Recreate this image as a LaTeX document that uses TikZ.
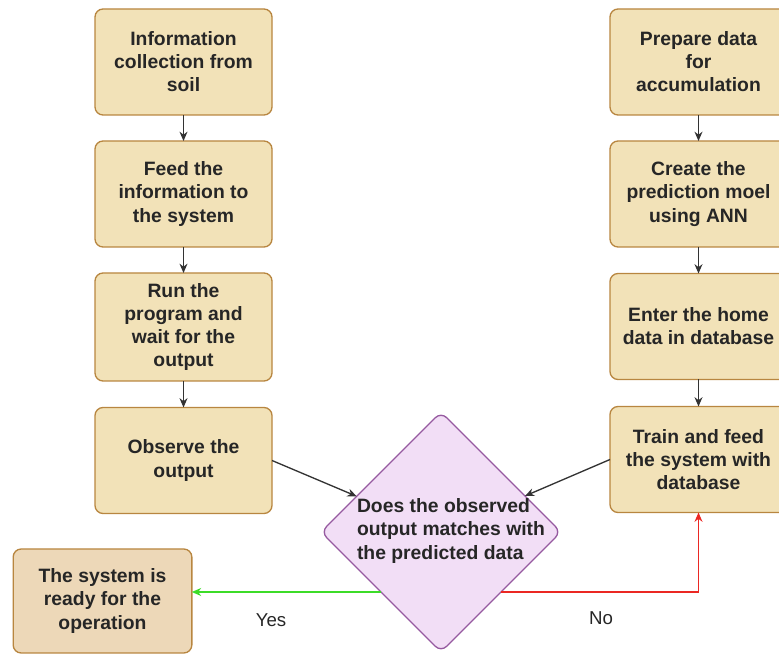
\documentclass[tikz,border=0pt]{standalone}
\usepackage{fontspec}
\setmainfont{Liberation Sans}
\usepackage{tikz}
\usetikzlibrary{calc,shapes.geometric,arrows.meta}

\definecolor{boxfill}{RGB}{242,226,184}
\definecolor{boxline}{RGB}{184,134,64}
\definecolor{readyfill}{RGB}{237,216,184}
\definecolor{decfill}{RGB}{242,222,246}
\definecolor{decline}{RGB}{150,90,160}
\definecolor{yesgreen}{RGB}{60,220,40}
\definecolor{nored}{RGB}{235,40,35}

\begin{document}
\begin{tikzpicture}[x=0.75pt, y=-0.75pt, inner sep=0pt, outer sep=0pt,
    every node/.style={font=\fontsize{14.5}{17.3}\selectfont\bfseries, text=black!85},
    procbox/.style={draw=boxline, line width=1pt, fill=boxfill, rounded corners=6pt,
        minimum width=132.75pt, minimum height=79.5pt, align=center},
    readybox/.style={procbox, fill=readyfill, minimum width=134pt, minimum height=78pt},
    decision/.style={diamond, draw=decline, line width=1pt, fill=decfill,
        rounded corners=6pt, minimum width=180pt, minimum height=180pt},
    flow/.style={-{Stealth[length=7pt,width=6pt]}, draw=black!80, line width=1pt},
    yesline/.style={-{Stealth[length=7pt,width=6pt]}, draw=yesgreen, line width=1pt},
    noline/.style={-{Stealth[length=7pt,width=6pt]}, draw=nored, line width=1pt}]

    \useasboundingbox (0,0) rectangle (779,655);

    % left column
    \node[procbox] (collect) at (183.5, 62) {Information\\collection from\\soil};
    \node[procbox] (feed) at (183.5, 194) {Feed the\\information to\\the system};
    \node[procbox, minimum height=81pt] (run) at (183.5, 327) {Run the\\program and\\wait for the\\output};
    \node[procbox] (observe) at (183.5, 460.5) {Observe the\\output};

    % right column
    \node[procbox] (prepare) at (698.5, 62) {Prepare data\\for\\accumulation};
    \node[procbox] (create) at (698.5, 194) {Create the\\prediction moel\\using ANN};
    \node[procbox] (enter) at (698.5, 326.5) {Enter the home\\data in database};
    \node[procbox] (train) at (698.5, 459.5) {Train and feed\\the system with\\database};

    % decision and result
    \node[decision] (dec) at (441, 532) {};
    \node[align=left] (dec_txt) at (451, 531) {Does the observed\\output matches with\\the predicted data};
    \node[readybox] (ready) at (102.5, 601) {The system is\\ready for the\\operation};

    % arrows
    \draw[flow] (collect) -- (feed);
    \draw[flow] (feed) -- (run);
    \draw[flow] (run) -- (observe);
    \draw[flow] (prepare) -- (create);
    \draw[flow] (create) -- (enter);
    \draw[flow] (enter) -- (train);
    \draw[flow] (observe.east) -- (dec);
    \draw[flow] (train.west) -- (dec);
    \draw[yesline] (dec.south west) -- (dec.south west -| ready.east);
    \draw[noline] (dec.south east) -| (train.south);

    % labels
    \node[font=\fontsize{14}{17}\selectfont] (yes_lbl) at (271, 620) {Yes};
    \node[font=\fontsize{14}{17}\selectfont] (no_lbl) at (601, 618) {No};

\end{tikzpicture}
\end{document}
